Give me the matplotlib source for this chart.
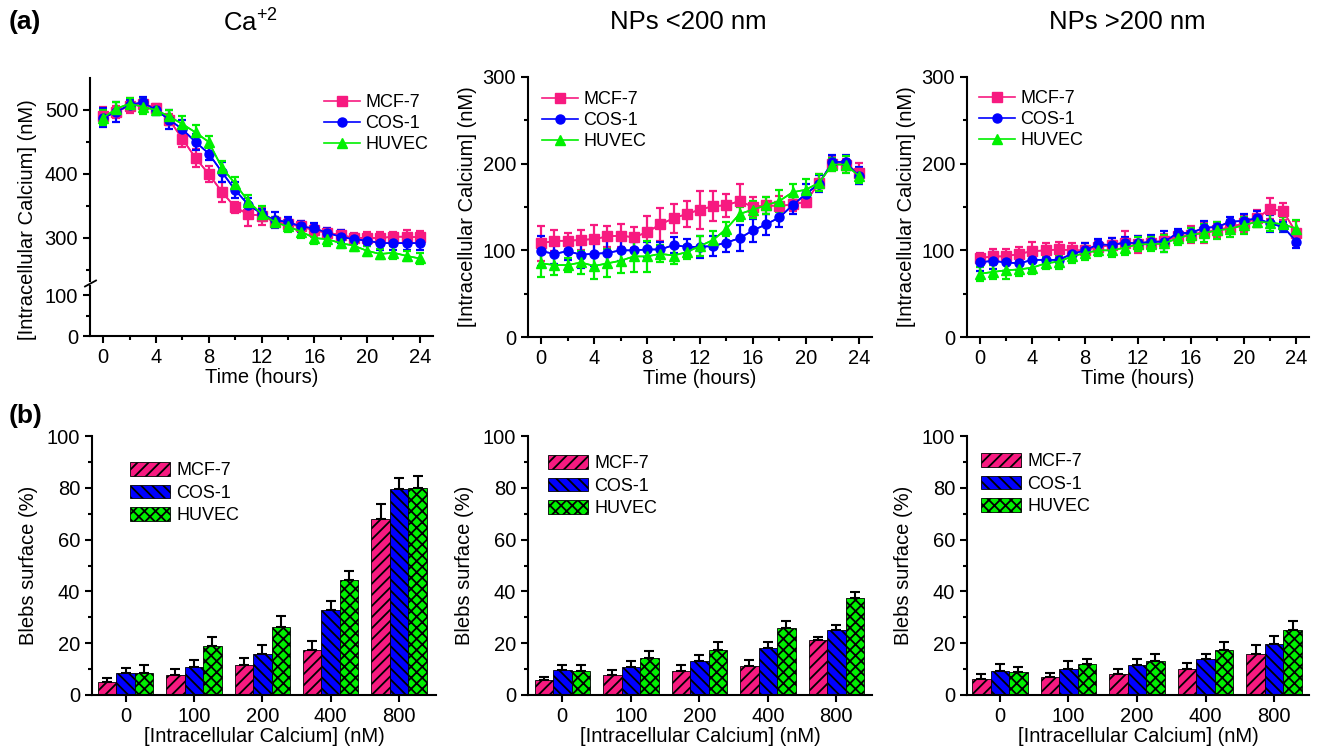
import numpy as np
import matplotlib
matplotlib.use("Agg")
import matplotlib.pyplot as plt
from matplotlib.lines import Line2D

plt.rcParams['font.family'] = ['Liberation Sans', 'DejaVu Sans']
plt.rcParams['mathtext.fontset'] = 'custom'
plt.rcParams['mathtext.rm'] = 'Liberation Sans'
plt.rcParams['hatch.linewidth'] = 1.3

# ---------------- data ----------------
time_h = list(range(25))
series_names = ['MCF-7', 'COS-1', 'HUVEC']

# Panel (a) Ca+2
ca_mcf7 = [490, 497, 507, 510, 503, 485, 455, 425, 400, 372, 348, 337, 335, 325, 322, 318, 312, 308, 305, 300, 300, 300, 302, 302, 301]
ca_mcf7_err = [15, 10, 12, 8, 6, 8, 13, 14, 13, 16, 9, 18, 14, 8, 8, 8, 10, 8, 8, 8, 10, 10, 8, 10, 10]
ca_cos1 = [488, 497, 508, 512, 500, 485, 470, 450, 432, 403, 375, 352, 338, 328, 325, 318, 315, 308, 302, 298, 296, 292, 292, 292, 292]
ca_cos1_err = [15, 15, 8, 8, 8, 15, 15, 12, 10, 15, 12, 10, 8, 12, 8, 8, 8, 8, 10, 8, 8, 10, 10, 10, 10]
ca_huvec = [488, 502, 510, 505, 500, 490, 478, 465, 450, 410, 385, 357, 338, 325, 318, 310, 300, 298, 292, 288, 280, 275, 277, 272, 268]
ca_huvec_err = [12, 10, 8, 12, 8, 10, 12, 12, 10, 10, 10, 10, 12, 8, 8, 10, 10, 10, 8, 8, 8, 8, 10, 8, 8]

# Panel (a) NPs <200 nm
s_mcf7 = [108, 111, 111, 112, 113, 116, 117, 115, 121, 130, 137, 142, 147, 151, 152, 157, 150, 152, 151, 153, 156, 178, 200, 199, 189]
s_mcf7_err = [20, 12, 9, 12, 16, 12, 13, 12, 19, 19, 17, 15, 22, 17, 13, 20, 11, 10, 12, 8, 6, 10, 8, 6, 12]
s_cos1 = [99, 96, 99, 95, 96, 97, 100, 100, 101, 101, 106, 104, 104, 105, 109, 114, 123, 130, 138, 152, 165, 177, 202, 202, 186]
s_cos1_err = [17, 12, 10, 15, 14, 16, 12, 10, 9, 9, 9, 9, 13, 11, 11, 15, 13, 12, 11, 10, 12, 10, 8, 8, 10]
s_huvec = [85, 83, 83, 86, 82, 85, 88, 93, 93, 96, 94, 98, 105, 112, 125, 142, 147, 152, 157, 167, 170, 178, 199, 199, 186]
s_huvec_err = [16, 12, 8, 13, 15, 16, 14, 18, 18, 10, 10, 8, 12, 10, 8, 8, 10, 10, 13, 10, 12, 10, 8, 10, 8]

# Panel (a) NPs >200 nm
l_mcf7 = [91, 93, 93, 96, 99, 100, 101, 100, 100, 104, 106, 109, 107, 109, 111, 116, 118, 121, 123, 127, 131, 137, 148, 145, 120]
l_mcf7_err = [6, 9, 9, 8, 11, 8, 9, 8, 9, 8, 8, 13, 10, 8, 8, 8, 10, 12, 8, 8, 10, 10, 12, 10, 14]
l_cos1 = [86, 88, 86, 85, 89, 89, 89, 96, 100, 107, 106, 109, 108, 110, 110, 120, 120, 126, 127, 133, 134, 137, 131, 127, 110]
l_cos1_err = [10, 10, 10, 8, 10, 9, 8, 8, 8, 6, 8, 6, 8, 8, 12, 5, 6, 8, 6, 5, 8, 8, 10, 6, 7]
l_huvec = [73, 75, 77, 78, 80, 85, 87, 93, 97, 100, 100, 103, 107, 107, 108, 114, 118, 120, 123, 125, 129, 133, 132, 130, 125]
l_huvec_err = [8, 8, 10, 8, 7, 7, 8, 8, 8, 6, 8, 8, 8, 8, 10, 8, 8, 10, 10, 10, 10, 6, 10, 8, 10]

# Panel (b)
calcium_cats = ['0', '100', '200', '400', '800']
b_ca_mcf7 = [5.0, 7.9, 11.7, 17.5, 67.8]
b_ca_mcf7_err = [1.7, 2.3, 2.6, 3.5, 6.0]
b_ca_cos1 = [8.5, 10.9, 16.0, 32.8, 79.7]
b_ca_cos1_err = [2.0, 2.6, 3.3, 3.5, 4.0]
b_ca_huvec = [8.6, 18.9, 26.3, 44.3, 80.0]
b_ca_huvec_err = [3.0, 3.4, 4.1, 3.4, 4.4]

b_s_mcf7 = [5.7, 7.9, 9.3, 11.3, 21.4]
b_s_mcf7_err = [1.1, 1.9, 2.3, 2.2, 1.0]
b_s_cos1 = [9.8, 10.8, 13.0, 18.0, 25.2]
b_s_cos1_err = [1.8, 2.3, 2.3, 2.5, 1.8]
b_s_huvec = [9.4, 14.4, 17.5, 25.9, 37.6]
b_s_huvec_err = [2.2, 2.6, 3.0, 2.7, 2.2]

b_l_mcf7 = [6.3, 7.1, 8.2, 10.2, 16.0]
b_l_mcf7_err = [1.9, 1.4, 2.0, 2.2, 3.4]
b_l_cos1 = [9.3, 10.2, 11.7, 13.9, 19.8]
b_l_cos1_err = [2.8, 2.9, 2.3, 2.1, 3.1]
b_l_huvec = [9.0, 11.8, 13.3, 17.2, 25.0]
b_l_huvec_err = [1.8, 2.2, 2.7, 3.4, 3.7]

# ---------------- style ----------------
colors = ['#F71A80', '#0000FF', '#00F000']
markers = ['s', 'o', '^']
hatches = ['///', '\\\\\\', 'xxx']
FS = 14.5

W, H = 1320, 747
fig = plt.figure(figsize=(W / 100, H / 100), dpi=100)


def rect(l, t, r, b):
    return [l / W, 1 - b / H, (r - l) / W, (b - t) / H]


def style_axes(ax, bottom=True):
    for s in ['top', 'right']:
        ax.spines[s].set_visible(False)
    for s in ['left', 'bottom']:
        ax.spines[s].set_linewidth(1.5)
    ax.tick_params(which='major', direction='out', length=5, width=1.5, labelsize=FS)
    ax.tick_params(which='minor', direction='out', length=3, width=1.5)
    ax.tick_params(which='both', top=False, right=False)


def plot_lines(ax, ys, errs):
    handles = []
    for y, e, c, m, n in zip(ys, errs, colors, markers, series_names):
        ax.errorbar(time_h, y, yerr=e, color=c, ecolor=c, elinewidth=1.6,
                    capsize=3, capthick=1.6, lw=1.2, zorder=2)
        h, = ax.plot(time_h, y, color=c, lw=1.2, marker=m, ms=6.5, zorder=3, label=n)
        handles.append(h)
    return handles


def line_legend(ax, handles, x_px, y_px):
    ax.legend(handles=handles, loc='upper left', frameon=False, fontsize=13,
              bbox_to_anchor=(x_px / W, 1 - y_px / H), bbox_transform=fig.transFigure,
              borderpad=0, borderaxespad=0, handlelength=2.0, handletextpad=0.3,
              labelspacing=0.22, markerscale=1.0)


xticks_t = [0, 4, 8, 12, 16, 20, 24]

# ---- top-left, broken axis ----
ax_up = fig.add_axes(rect(90, 78, 433, 281))
ax_lo = fig.add_axes(rect(90, 286, 433, 336), sharex=ax_up)
for ax in (ax_up, ax_lo):
    style_axes(ax)
    hs = plot_lines(ax, [ca_mcf7, ca_cos1, ca_huvec], [ca_mcf7_err, ca_cos1_err, ca_huvec_err])
ax_up.set_ylim(232.8, 550)
ax_up.set_yticks([300, 400, 500])
ax_up.set_yticks([250, 350, 450], minor=True)
ax_up.spines['bottom'].set_visible(False)
ax_up.tick_params(which='both', bottom=False, labelbottom=False)
ax_lo.set_ylim(0, 122)
ax_lo.set_yticks([0, 100])
ax_lo.set_yticks([50], minor=True)
ax_lo.set_xlim(-1, 25)
ax_lo.set_xticks(xticks_t)
ax_lo.set_xticks(range(2, 24, 4), minor=True)
ax_lo.set_xlabel('Time (hours)', fontsize=FS, labelpad=1)
fig.text(28 / W, 1 - 220 / H, '[Intracellular Calcium] (nM)', rotation=90,
         ha='center', va='center', fontsize=FS)
fig.add_artist(Line2D([85 / W, 96 / W], [1 - 286.5 / H, 1 - 280.5 / H],
                      transform=fig.transFigure, color='black', lw=1.3))
line_legend(ax_up, hs, 324, 94)

# ---- top-middle ----
ax_m = fig.add_axes(rect(528, 77, 872, 337))
style_axes(ax_m)
hs = plot_lines(ax_m, [s_mcf7, s_cos1, s_huvec], [s_mcf7_err, s_cos1_err, s_huvec_err])
ax_m.set_ylim(0, 300)
ax_m.set_yticks([0, 100, 200, 300])
ax_m.set_yticks([50, 150, 250], minor=True)
ax_m.set_xlim(-1, 25)
ax_m.set_xticks(xticks_t)
ax_m.set_xticks(range(2, 24, 4), minor=True)
ax_m.set_xlabel('Time (hours)', fontsize=FS, labelpad=1)
ax_m.set_ylabel('[Intracellular Calcium] (nM)', fontsize=FS, labelpad=4)
line_legend(ax_m, hs, 542, 91)

# ---- top-right ----
ax_r = fig.add_axes(rect(967, 77, 1309, 337))
style_axes(ax_r)
hs = plot_lines(ax_r, [l_mcf7, l_cos1, l_huvec], [l_mcf7_err, l_cos1_err, l_huvec_err])
ax_r.set_ylim(0, 300)
ax_r.set_yticks([0, 100, 200, 300])
ax_r.set_yticks([50, 150, 250], minor=True)
ax_r.set_xlim(-0.95, 24.95)
ax_r.set_xticks(xticks_t)
ax_r.set_xticks(range(2, 24, 4), minor=True)
ax_r.set_xlabel('Time (hours)', fontsize=FS, labelpad=1)
ax_r.set_ylabel('[Intracellular Calcium] (nM)', fontsize=FS, labelpad=4)
line_legend(ax_r, hs, 979, 90)


# ---- bar panels ----
def bar_panel(r, vals, errs, xlim, leg_xy):
    ax = fig.add_axes(rect(*r))
    style_axes(ax)
    x = np.arange(len(calcium_cats))
    bw = 0.27
    bars = []
    for i, (v, e, c, h, n) in enumerate(zip(vals, errs, colors, hatches, series_names)):
        b = ax.bar(x + (i - 1) * bw, v, width=bw, color=c, edgecolor='black',
                   linewidth=0.6, hatch=h, label=n, zorder=2)
        ax.errorbar(x + (i - 1) * bw, v, yerr=[np.zeros(len(v)), e], fmt='none',
                    ecolor='black', elinewidth=1.5, capsize=3.5, capthick=1.5, zorder=3)
        bars.append(b)
    ax.set_ylim(0, 100)
    ax.set_yticks([0, 20, 40, 60, 80, 100])
    ax.set_yticks(range(10, 100, 20), minor=True)
    ax.set_xlim(*xlim)
    ax.set_xticks(x)
    ax.set_xticklabels(calcium_cats)
    ax.set_xlabel('[Intracellular Calcium] (nM)', fontsize=FS, labelpad=1)
    ax.set_ylabel('Blebs surface (%)', fontsize=FS, labelpad=6)
    ax.legend(handles=bars, loc='upper left', frameon=False, fontsize=13,
              bbox_to_anchor=(leg_xy[0] / W, 1 - leg_xy[1] / H), bbox_transform=fig.transFigure,
              borderpad=0, borderaxespad=0, handlelength=2.2, handleheight=0.8,
              handletextpad=0.35, labelspacing=0.3)
    return ax


bar_panel((92, 436, 436, 695), [b_ca_mcf7, b_ca_cos1, b_ca_huvec],
          [b_ca_mcf7_err, b_ca_cos1_err, b_ca_huvec_err], (-0.49, 4.54), (130, 462))
bar_panel((528, 436, 872, 695), [b_s_mcf7, b_s_cos1, b_s_huvec],
          [b_s_mcf7_err, b_s_cos1_err, b_s_huvec_err], (-0.5, 4.52), (548, 455))
bar_panel((967, 436, 1309, 695), [b_l_mcf7, b_l_cos1, b_l_huvec],
          [b_l_mcf7_err, b_l_cos1_err, b_l_huvec_err], (-0.48, 4.51), (981, 453))

# ---- titles / panel labels ----
fig.text(250 / W, 1 - 22 / H, r'Ca$^{+2}$', ha='center', va='center', fontsize=18.5)
fig.text(688 / W, 1 - 22 / H, 'NPs <200 nm', ha='center', va='center', fontsize=18.5)
fig.text(1127 / W, 1 - 22 / H, 'NPs >200 nm', ha='center', va='center', fontsize=18.5)
fig.text(9 / W, 1 - 22 / H, '(a)', ha='left', va='center', fontsize=19, fontweight='bold')
fig.text(9 / W, 1 - 416 / H, '(b)', ha='left', va='center', fontsize=19, fontweight='bold')

fig.savefig('out.png', dpi=100)
